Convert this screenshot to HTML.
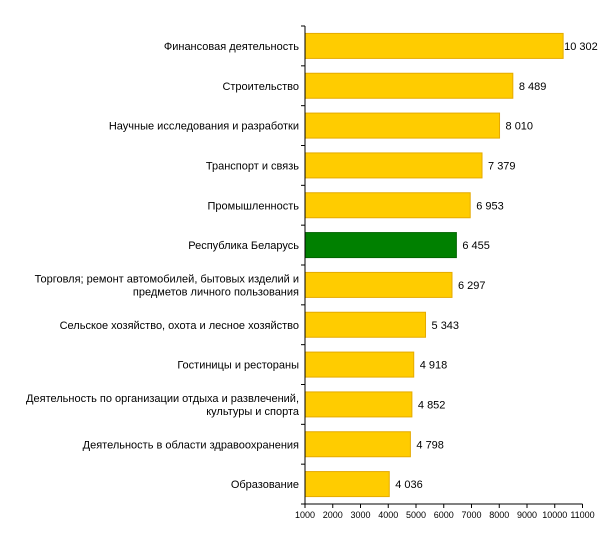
<!DOCTYPE html>
<html><head><meta charset="utf-8"><style>
body{margin:0;background:#fff;}
svg text{font-family:"Liberation Sans",sans-serif;}
</style></head><body>
<svg width="600" height="551" xmlns="http://www.w3.org/2000/svg">
<g id="bars"></g>
</svg>
<script>
(function(){
const data=[
[["Финансовая деятельность"],10302],
[["Строительство"],8489],
[["Научные исследования и разработки"],8010],
[["Транспорт и связь"],7379],
[["Промышленность"],6953],
[["Республика Беларусь"],6455,1],
[["Торговля; ремонт автомобилей, бытовых изделий и","предметов личного пользования"],6297],
[["Сельское хозяйство, охота и лесное хозяйство"],5343],
[["Гостиницы и рестораны"],4918],
[["Деятельность по организации отдыха и развлечений,","культуры и спорта"],4852],
[["Деятельность в области здравоохранения"],4798],
[["Образование"],4036]];
var x0=305,x1=582.5,T=26,B=504,step=(B-T)/12;
function X(v){return x0+(v-1000)/10000*(x1-x0);}
var s='';
data.forEach(function(d,i){
 var cy=T+step*(i+0.5);
 var w=X(d[1])-x0;
 s+='<rect x="'+x0+'" y="'+(cy-12.5)+'" width="'+w+'" height="25" fill="'+(d[2]?'#008000':'#FFCC00')+'" stroke="'+(d[2]?'#006400':'#E5AA00')+'" stroke-width="1"/>';
 var v=d[1].toString().replace(/\B(?=(\d{3})+(?!\d))/g,' ');
 s+='<text x="'+(X(d[1])+(d[1]>10000?1:6))+'" y="'+(cy+4)+'" font-size="11" fill="#000">'+v+'</text>';
 var L=d[0];
 L.forEach(function(t,j){var yy=cy+4+(j-(L.length-1)/2)*13;
 s+='<text x="299" y="'+yy+'" font-size="11" text-anchor="end" fill="#000">'+t+'</text>';});
});
for(var i=0;i<=12;i++){var y=T+step*i;s+='<line x1="301" y1="'+y+'" x2="305" y2="'+y+'" stroke="#000"/>';}
s+='<line x1="305" y1="'+T+'" x2="305" y2="'+B+'" stroke="#000"/><line x1="305" y1="'+B+'" x2="'+x1+'" y2="'+B+'" stroke="#000"/>';
for(var k=0;k<=10;k++){var x=x0+k*(x1-x0)/10;var v=1000+k*1000;
 s+='<line x1="'+x+'" y1="'+B+'" x2="'+x+'" y2="'+(B+4)+'" stroke="#000"/><text x="'+x+'" y="'+(B+14)+'" font-size="9" text-anchor="middle" fill="#000">'+v+'</text>';}
document.getElementById('bars').innerHTML=s;
})();
</script>
</body></html>
